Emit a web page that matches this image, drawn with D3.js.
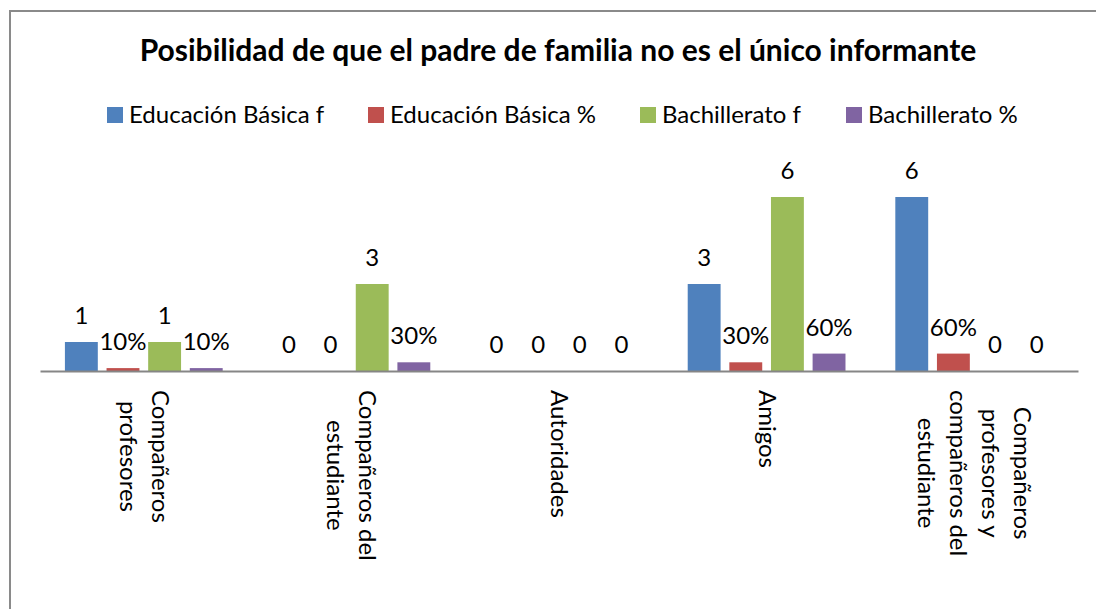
<!DOCTYPE html>
<html>
<head>
<meta charset="utf-8">
<script src="https://cdn.jsdelivr.net/npm/d3@7"></script>
<style>
  body { margin: 0; background: #fff; }
  text { font-family: Lato, "Open Sans", sans-serif; fill: #000; }
</style>
</head>
<body>
<svg id="chart" width="1096" height="609"></svg>
<script>
// datos
let categories = [
    ["Compañeros", "profesores"],
    ["Compañeros del", "estudiante"],
    ["Autoridades"],
    ["Amigos"],
    ["Compañeros", "profesores y", "compañeros del", "estudiante"]
]
let seriesNames = ["Educación Básica f", "Educación Básica %", "Bachillerato f", "Bachillerato %"]
let basicaF = [1, 0, 0, 3, 6]
let basicaPct = [0.1, 0, 0, 0.3, 0.6]
let bachF = [1, 3, 0, 6, 0]
let bachPct = [0.1, 0.3, 0, 0.6, 0]
let colors = ["#4F81BD", "#C0504D", "#9BBB59", "#8064A2"]
let titleText = "Posibilidad de que el padre de familia no es el único informante"

let seriesValues = [basicaF, basicaPct, bachF, bachPct]
let isPct = [false, true, false, true]

let svg = d3.select("#chart")

// marco
svg.append("rect")
    .attr("x", 10).attr("y", 11)
    .attr("width", 1100).attr("height", 620)
    .attr("fill", "none")
    .attr("stroke", "#8a8a8a")
    .attr("stroke-width", 2)

// título
svg.append("text")
    .attr("x", 558).attr("y", 61)
    .attr("text-anchor", "middle")
    .attr("font-weight", "bold")
    .attr("font-size", "30px")
    .text(titleText)

// leyenda
let legendX = [107, 368, 640, 846]
let legend = svg.append("g")
    .selectAll("g")
    .data(seriesNames)
    .enter()
    .append("g")
    .attr("transform", function (d, i) { return "translate(" + legendX[i] + ",107)" })
legend.append("rect")
    .attr("width", 16).attr("height", 16)
    .attr("fill", function (d, i) { return colors[i] })
legend.append("text")
    .attr("x", 22).attr("y", 16)
    .attr("font-size", "24px")
    .text(function (d) { return d })

// escalas
let catKeys = categories.map(function (c) { return c.join(" ") })
let x0 = d3.scaleBand()
    .domain(catKeys)
    .range([40, 1078])

let x1 = d3.scaleBand()
    .domain(seriesNames)
    .range([x0.bandwidth() * 0.12, x0.bandwidth() * 0.88])
    .paddingInner(0.21)

let y = d3.scaleLinear()
    .domain([0, 6])
    .range([371, 197])

// barras
let rows = catKeys.map(function (k, ci) {
    return seriesNames.map(function (s, si) {
        return { cat: k, series: s, idx: si, value: seriesValues[si][ci] }
    })
})

let groups = svg.append("g")
    .selectAll("g")
    .data(rows)
    .enter()
    .append("g")
    .attr("transform", function (d) { return "translate(" + x0(d[0].cat) + ",0)" })

groups.selectAll("rect")
    .data(function (d) { return d })
    .enter()
    .append("rect")
    .attr("x", function (d) { return x1(d.series) })
    .attr("y", function (d) { return y(d.value) })
    .attr("width", x1.bandwidth())
    .attr("height", function (d) { return y(0) - y(d.value) })
    .attr("fill", function (d) { return colors[d.idx] })

groups.selectAll("text")
    .data(function (d) { return d })
    .enter()
    .append("text")
    .attr("x", function (d) { return x1(d.series) + x1.bandwidth() / 2 })
    .attr("y", function (d) { return y(d.value) - 18 })
    .attr("text-anchor", "middle")
    .attr("font-size", "24px")
    .text(function (d) { return isPct[d.idx] && d.value > 0 ? Math.round(d.value * 100) + "%" : d.value })

// eje
let xAxis = svg.append("g")
    .attr("transform", "translate(0," + y(0) + ")")
    .call(d3.axisBottom(x0).tickSize(0).tickFormat(""))
xAxis.select(".domain")
    .attr("stroke", "#868686")
    .attr("stroke-width", 2)

// etiquetas de categoría giradas
let lineH = 32
categories.forEach(function (lines, ci) {
    let cx = x0(catKeys[ci]) + x0.bandwidth() / 2
    let g = svg.append("g")
    let texts = lines.map(function (l) {
        return g.append("text").attr("font-size", "24px").text(l)
    })
    let maxLen = d3.max(texts, function (t) { return t.node().getComputedTextLength() })
    let cy = 390 + maxLen / 2
    texts.forEach(function (t, li) {
        let off = (li - (lines.length - 1) / 2) * lineH
        // cada línea nueva se desplaza a la izquierda
        t.attr("text-anchor", "middle")
            .attr("transform", "translate(" + (cx - off - 8) + "," + cy + ") rotate(90)")
    })
})
</script>
</body>
</html>
